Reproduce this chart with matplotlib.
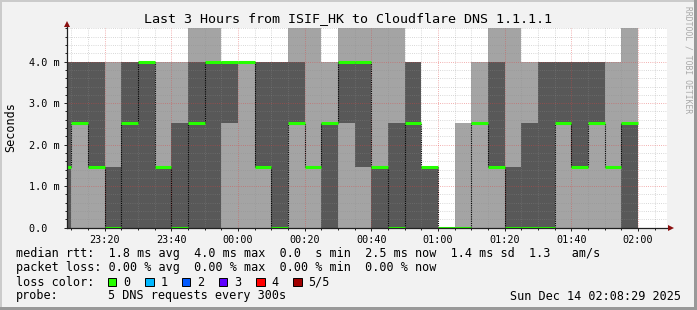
import matplotlib
matplotlib.use("Agg")
import matplotlib.pyplot as plt
from matplotlib.ticker import MultipleLocator, FuncFormatter, FixedLocator
from matplotlib.patches import Rectangle
from matplotlib.lines import Line2D

# ---------------- data (ms) ----------------
slot_times = ["23:05", "23:10", "23:15", "23:20", "23:25", "23:30", "23:35",
              "23:40", "23:45", "23:50", "23:55", "00:00", "00:05", "00:10",
              "00:15", "00:20", "00:25", "00:30", "00:35", "00:40", "00:45",
              "00:50", "00:55", "01:00", "01:05", "01:10", "01:15", "01:20",
              "01:25", "01:30", "01:35", "01:40", "01:45", "01:50", "01:55"]
slot_end = "02:00"

ping_min = [0.0, 0.0, 0.0, 0.0, 0.0, 0.0, 0.0, 0.0, 0.0, 0.0, 0.0, 0.0,
            0.0, 0.0, 0.0, 0.0, 0.0, 0.0, 0.0, 0.0, 0.0, 0.0, 0.0, 0.0,
            0.0, 0.0, 0.0, 0.0, 0.0, 0.0, 0.0, 0.0, 0.0, 0.0, 0.0]
ping_2nd = [0.0, 2.51, 1.46, 0.0, 0.0, 0.0, 0.0, 0.0, 0.0, 0.0, 2.51, 4.0,
            1.46, 0.0, 2.51, 1.46, 0.0, 2.51, 1.46, 0.0, 0.0, 0.0, 0.0, 0.0,
            0.0, 2.51, 1.46, 0.0, 0.0, 0.0, 2.51, 1.46, 2.51, 1.46, 0.0]
median = [1.46, 2.51, 1.46, 0.0, 2.51, 4.0, 1.46, 0.0, 2.51, 4.0, 4.0, 4.0,
          1.46, 0.0, 2.51, 1.46, 2.51, 4.0, 4.0, 1.46, 0.0, 2.51, 1.46, 0.0,
          0.0, 2.51, 1.46, 0.0, 0.0, 0.0, 2.51, 1.46, 2.51, 1.46, 2.51]
ping_4th = [4.0, 4.0, 4.0, 1.46, 4.0, 4.0, 1.46, 2.51, 4.0, 4.0, 4.0, 4.0,
            4.0, 4.0, 4.0, 1.46, 2.51, 4.0, 4.0, 1.46, 2.51, 4.0, 1.46, 0.0,
            0.0, 2.51, 4.0, 1.46, 2.51, 4.0, 4.0, 4.0, 4.0, 1.46, 2.51]
ping_max = [4.0, 4.0, 4.0, 4.0, 4.0, 4.0, 4.0, 4.0, 5.0, 5.0, 4.0, 4.0,
            4.0, 4.0, 5.0, 5.0, 4.0, 5.0, 5.0, 5.0, 5.0, 4.0, 1.46, 0.0,
            2.51, 4.0, 5.0, 5.0, 4.0, 4.0, 4.0, 4.0, 4.0, 4.0, 5.0]

title = "Last 3 Hours from ISIF_HK to Cloudflare DNS 1.1.1.1"
ylabel = "Seconds"
y_ticks = [0.0, 1.0, 2.0, 3.0, 4.0]
y_ticklabels = ["0.0  ", "1.0 m", "2.0 m", "3.0 m", "4.0 m"]
x_ticklabels = ["23:20", "23:40", "00:00", "00:20", "00:40", "01:00",
                "01:20", "01:40", "02:00"]

legend_rtt = "median rtt:  1.8 ms avg  4.0 ms max  0.0  s min  2.5 ms now  1.4 ms sd  1.3   am/s"
legend_loss = "packet loss: 0.00 % avg  0.00 % max  0.00 % min  0.00 % now"
loss_labels = ["0", "1", "2", "3", "4", "5/5"]
loss_colors = ["#26ff00", "#00b8ff", "#0059ff", "#5e00ff", "#ff0000", "#a10000"]
probe_text = "5 DNS requests every 300s"
stamp = "Sun Dec 14 02:08:29 2025"
watermark = "RRDTOOL / TOBI OETIKER"


def to_min(s):
    h, m = map(int, s.split(":"))
    v = h * 60 + m
    return v - 1440 if h >= 12 else v


edges = [to_min(t) for t in slot_times] + [to_min(slot_end)]
xtick_pos = [to_min(t) for t in x_ticklabels]

# ---------------- figure ----------------
W, H = 697, 310
MONO = "DejaVu Sans Mono"
plt.rcParams["font.family"] = MONO
fig = plt.figure(figsize=(W / 100, H / 100), dpi=100, facecolor="#f2f2f2")


def fx(x):
    return x / W


def fy(y):
    return 1 - y / H


ax_left, ax_right, ax_top, ax_bot = 66.5, 666.5, 28.0, 227.7
ax = fig.add_axes([fx(ax_left), fy(ax_bot), (ax_right - ax_left) / W, (ax_bot - ax_top) / H])
ax.set_facecolor("white")
ax.set_xlim(-51.45, 128.55)
ax.set_ylim(0, 4.81)

light = "#a4a4a4"
dark = "#585858"
ax.stairs(ping_max, edges, baseline=ping_min, fill=True, color=light, lw=0, zorder=1)
ax.stairs(ping_4th, edges, baseline=ping_2nd, fill=True, color=dark, lw=0, zorder=1.1)

# median transitions (dotted black) and median (green)
for i in range(1, len(median)):
    if median[i] != median[i - 1]:
        ax.vlines(edges[i], min(median[i], median[i - 1]), max(median[i], median[i - 1]),
                  color="black", lw=0.8, linestyles=(0, (1, 1)), zorder=3.5)
ax.hlines(median, edges[:-1], edges[1:], color=loss_colors[0], lw=2.2,
          zorder=4, capstyle="butt")

# grid
ax.xaxis.set_major_locator(FixedLocator(xtick_pos))
ax.xaxis.set_minor_locator(MultipleLocator(5))
ax.yaxis.set_major_locator(FixedLocator(y_ticks))
ax.yaxis.set_minor_locator(MultipleLocator(0.2))
ax.set_xticklabels(x_ticklabels)
ax.set_yticklabels(y_ticklabels)
ax.set_axisbelow(False)
ax.grid(which="minor", color="#8c8c8c", alpha=0.45, lw=0.6, linestyle=(0, (1, 1.6)), zorder=2.5)
ax.grid(which="major", color="#e04040", alpha=0.55, lw=0.6, linestyle=(0, (1, 1.6)), zorder=2.6)

for s in ax.spines.values():
    s.set_visible(False)
ax.tick_params(which="both", direction="out", color="#202020", width=0.7,
               labelsize=7.3, labelcolor="#000000")
ax.tick_params(which="major", length=2.2)
ax.tick_params(which="minor", length=1.4)
ax.tick_params(axis="y", which="major", pad=3.0)
ax.tick_params(axis="x", which="major", pad=2.8)

# axis lines with arrows
ax.add_line(Line2D([0, 0], [0, (ax_bot - 24) / (ax_bot - ax_top)], transform=ax.transAxes,
                   color="#202020", lw=0.9, clip_on=False, zorder=6))
ax.add_line(Line2D([0, (670 - ax_left) / (ax_right - ax_left)], [0, 0], transform=ax.transAxes,
                   color="#202020", lw=0.9, clip_on=False, zorder=6))
ax.plot([0], [(ax_bot - 23.5) / (ax_bot - ax_top)], marker="^", ms=4.5, color="#8b1010",
        transform=ax.transAxes, clip_on=False, zorder=7, mew=0)
ax.plot([(671 - ax_left) / (ax_right - ax_left)], [0], marker=">", ms=4.5, color="#8b1010",
        transform=ax.transAxes, clip_on=False, zorder=7, mew=0)

# titles
fig.text(fx(348.5), fy(19), title, ha="center", va="center", fontsize=9.6, family=MONO)
fig.text(fx(11), fy(127), ylabel, ha="center", va="center", rotation=90, fontsize=8.5, family=MONO)
fig.text(fx(688), fy(60), watermark, ha="center", va="center", rotation=270,
         fontsize=5.8, color="#a8a8a8", family=MONO)

# legend
fs = 8.5
fig.text(fx(16), fy(254), legend_rtt, ha="left", va="center", fontsize=fs, family=MONO)
fig.text(fx(16), fy(268), legend_loss, ha="left", va="center", fontsize=fs, family=MONO)
fig.text(fx(16), fy(282), "loss color:", ha="left", va="center", fontsize=fs, family=MONO)
box_x = [108.0, 145.3, 182.0, 219.0, 256.4, 293.3]
for bx, lab, col in zip(box_x, loss_labels, loss_colors):
    fig.patches.append(Rectangle((fx(bx), fy(286.2)), 8.4 / W, 8.4 / H, transform=fig.transFigure,
                                 facecolor=col, edgecolor="black", lw=0.7))
    fig.text(fx(bx + 15.3), fy(282), lab, ha="left", va="center", fontsize=fs, family=MONO)
fig.text(fx(16), fy(296), "probe:", ha="left", va="center", fontsize=fs, family=MONO)
fig.text(fx(107.6), fy(296), probe_text, ha="left", va="center", fontsize=fs, family=MONO)
fig.text(fx(681), fy(296), stamp, ha="right", va="center", fontsize=fs, family=MONO)

# outer shaded frame
fig.patches.append(Rectangle((0, fy(2)), 1, 2 / H, transform=fig.transFigure, color="#cbcbcb", lw=0))
fig.patches.append(Rectangle((0, 0), 2 / W, 1, transform=fig.transFigure, color="#cbcbcb", lw=0))
fig.patches.append(Rectangle((0, 0), 1, 3 / H, transform=fig.transFigure, color="#999999", lw=0))
fig.patches.append(Rectangle((fx(694), 0), 3 / W, 1, transform=fig.transFigure, color="#999999", lw=0))

fig.savefig("out.png", dpi=100, facecolor=fig.get_facecolor())
